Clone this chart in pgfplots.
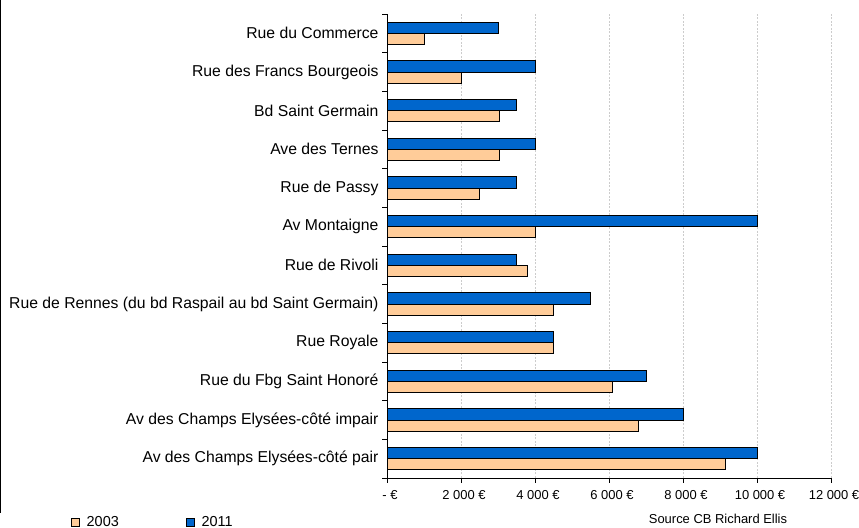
\documentclass[border=0pt]{standalone}
\usepackage{fontspec}
\setmainfont{Liberation Sans}
\usepackage{pgfplots}
\pgfplotsset{compat=1.18}
\definecolor{c03}{HTML}{FFCC99}
\definecolor{c11}{HTML}{0066CC}
\definecolor{gridc}{HTML}{CCCCCC}
\pgfplotsset{sqlegend/.style={legend image code/.code={\draw[##1, line width=0.7bp] (0bp,-4bp) rectangle (8bp,4bp);}}}
\begin{document}
\begin{tikzpicture}[x=1bp,y=1bp]
\useasboundingbox (0,0) rectangle (859,528);
\draw[line width=1.5bp] (0.75,15) -- (0.75,528);
\begin{axis}[
  at={(387bp,50bp)}, anchor=south west,
  scale only axis, width=444bp, height=464bp,
  xmin=0, xmax=12000, ymin=-0.5, ymax=11.5,
  axis x line=bottom, axis y line=left,
  axis line style={-, line width=0.9bp, black},
  tick align=outside,
  major tick length=5bp,
  tick style={black, line width=0.8bp},
  scaled x ticks=false,
  xtick={0,2000,4000,6000,8000,10000,12000},
  xticklabels={- €, 2 000 €, 4 000 €, 6 000 €, 8 000 €, 10 000 €, 12 000 €},
  xticklabel style={font=\fontsize{13}{15}\selectfont, xshift=3bp, yshift=-4bp},
  xmajorgrids,
  major grid style={gridc, dash pattern=on 2bp off 1.5bp, line width=0.7bp},
  ytick={-0.5,0.5,1.5,2.5,3.5,4.5,5.5,6.5,7.5,8.5,9.5,10.5,11.5},
  yticklabels={},
  extra y ticks={0,1,2,3,4,5,6,7,8,9,10,11},
  extra y tick labels={Av des Champs Elysées-côté pair, Av des Champs Elysées-côté impair, Rue du Fbg Saint Honoré, Rue Royale, Rue de Rennes (du bd Raspail au bd Saint Germain), Rue de Rivoli, Av Montaigne, Rue de Passy, Ave des Ternes, Bd Saint Germain, Rue des Francs Bourgeois, Rue du Commerce},
  extra y tick style={major tick length=0pt, yticklabel style={font=\fontsize{15.8}{18}\selectfont, xshift=-5bp}},
  legend columns=2,
  legend style={draw=none, fill=none, inner sep=0pt, outer sep=0pt,
    at={(axis description cs:-0.7117,-0.0948)}, anchor=west,
    font=\fontsize{14.5}{16}\selectfont,
    /tikz/every odd column/.append style={column sep=5bp},
    /tikz/every even column/.append style={column sep=65bp}},
]
\addplot[xbar, bar width=0.29, bar shift=-0.145, fill=c03, draw=black, line width=0.8bp, sqlegend]
  coordinates {(9150,0) (6800,1) (6100,2) (4500,3) (4500,4) (3800,5) (4000,6) (2500,7) (3050,8) (3050,9) (2000,10) (1000,11)};
\addlegendentry{2003}
\addplot[xbar, bar width=0.29, bar shift=0.145, fill=c11, draw=black, line width=0.8bp, sqlegend]
  coordinates {(10000,0) (8000,1) (7000,2) (4500,3) (5500,4) (3500,5) (10000,6) (3500,7) (4000,8) (3500,9) (4000,10) (3000,11)};
\addlegendentry{2011}
\end{axis}
\node[font=\fontsize{13}{15}\selectfont, inner sep=0pt] at (718,9) {Source CB Richard Ellis};
\end{tikzpicture}
\end{document}
